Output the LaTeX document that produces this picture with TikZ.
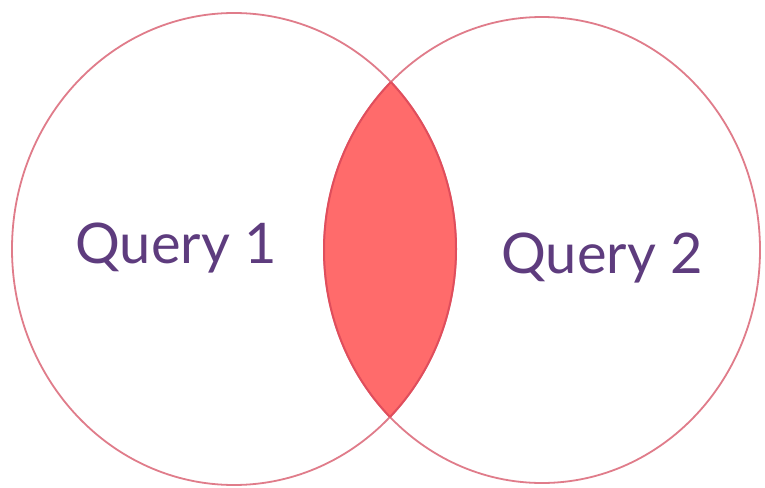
\documentclass[tikz,border=0pt]{standalone}
\usepackage{fontspec}
\setmainfont{Lato}
\definecolor{ringc}{HTML}{E07C8A}
\definecolor{lensfill}{HTML}{FF6B6B}
\definecolor{lensline}{HTML}{E04E5C}
\definecolor{txtc}{HTML}{5E3C7E}
\tikzset{
  ring/.style={draw=ringc, line width=1.8pt},
  lbl/.style={text=txtc, font=\fontsize{56}{62}\selectfont, inner sep=0pt},
}
\begin{document}
\begin{tikzpicture}[x=1pt,y=1pt]
\useasboundingbox[fill=white] (0,0) rectangle (765,-487);
% outlines
\draw[ring] (234,-249) ellipse [x radius=222, y radius=236];
\draw[ring] (542,-250) ellipse [x radius=218, y radius=233];
% intersection
\begin{scope}
  \clip (234,-249) ellipse [x radius=222, y radius=236];
  \fill[lensfill] (542,-250) ellipse [x radius=218, y radius=233];
  \draw[lensline, line width=2pt] (542,-250) ellipse [x radius=218, y radius=233];
\end{scope}
\begin{scope}
  \clip (542,-250) ellipse [x radius=218, y radius=233];
  \draw[lensline, line width=2pt] (234,-249) ellipse [x radius=222, y radius=236];
\end{scope}
\node[lbl] (q1) at (176,-248) {Query 1};
\node[lbl] (q2) at (602,-258) {Query 2};
\end{tikzpicture}
\end{document}
